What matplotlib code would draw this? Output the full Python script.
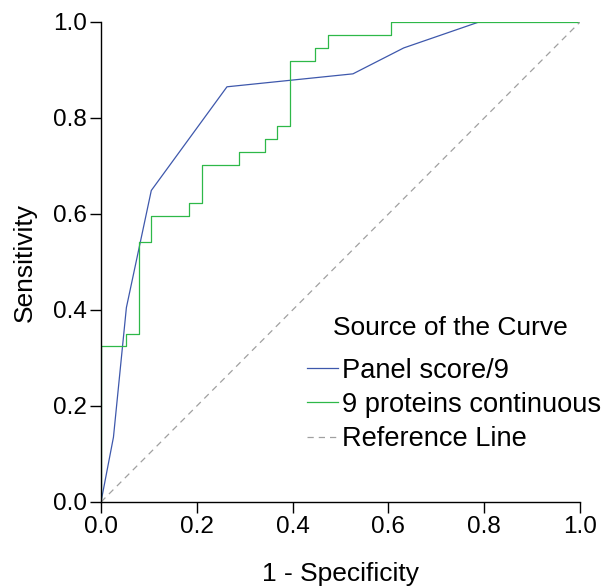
import matplotlib
matplotlib.use("Agg")
import matplotlib.pyplot as plt
import numpy as np

plt.rcParams['font.family'] = ['Liberation Sans', 'DejaVu Sans']

# ROC data (n positives = 37, n negatives = 38)
panel_fpr = [0.0, 0.026, 0.053, 0.105, 0.263, 0.526, 0.632, 0.789, 1.0]
panel_tpr = [0.0, 0.135, 0.405, 0.649, 0.865, 0.892, 0.946, 1.0, 1.0]

prot_fpr = [0.0, 0.0, 0.053, 0.079, 0.105, 0.184, 0.211, 0.289, 0.342, 0.368, 0.395, 0.447, 0.474, 0.605, 1.0]
prot_tpr = [0.0, 0.324, 0.351, 0.541, 0.595, 0.622, 0.703, 0.730, 0.757, 0.784, 0.919, 0.946, 0.973, 1.0, 1.0]

ref_x = [0.0, 1.0]
ref_y = [0.0, 1.0]

series_labels = ["Panel score/9", "9 proteins continuous", "Reference Line"]
legend_title = "Source of the Curve"
ticks = [0.0, 0.2, 0.4, 0.6, 0.8, 1.0]
tick_labels = ["0.0", "0.2", "0.4", "0.6", "0.8", "1.0"]

fig = plt.figure(figsize=(6.05, 5.88), dpi=100)
ax = fig.add_axes([101/605, 86/588, 479/605, 480/588])

ax.plot(panel_fpr, panel_tpr, color="#3E58AC", lw=0.9, label=series_labels[0])
ax.plot(prot_fpr, prot_tpr, color="#2EB848", lw=0.9, drawstyle="steps-post", label=series_labels[1])
ax.plot(ref_x, ref_y, color="#A0A0A0", lw=0.9, ls=(0, (5, 4)), label=series_labels[2])

ax.set_xlim(0, 1)
ax.set_ylim(0, 1)
ax.set_xticks(ticks)
ax.set_xticklabels(tick_labels)
ax.set_yticks(ticks)
ax.set_yticklabels(tick_labels)
for s in ["top", "right"]:
    ax.spines[s].set_visible(False)
for s in ["left", "bottom"]:
    ax.spines[s].set_linewidth(1.0)
    ax.spines[s].set_color("black")
ax.tick_params(direction="out", length=8, width=1.0, labelsize=17.5, pad=2, colors="black")

ax.set_xlabel("1 - Specificity", fontsize=19, labelpad=17)
ax.set_ylabel("Sensitivity", fontsize=19, labelpad=12)

fig.text(450/605, (588-328)/588, legend_title, fontsize=19, ha="center", va="center")
leg = ax.legend(loc="center", bbox_to_anchor=(454/605, (588-405)/588),
                bbox_transform=fig.transFigure, frameon=False, fontsize=19.6,
                handlelength=1.15, handletextpad=0.15, labelspacing=0.3, borderpad=0)
fig.savefig("out.png", dpi=100)
